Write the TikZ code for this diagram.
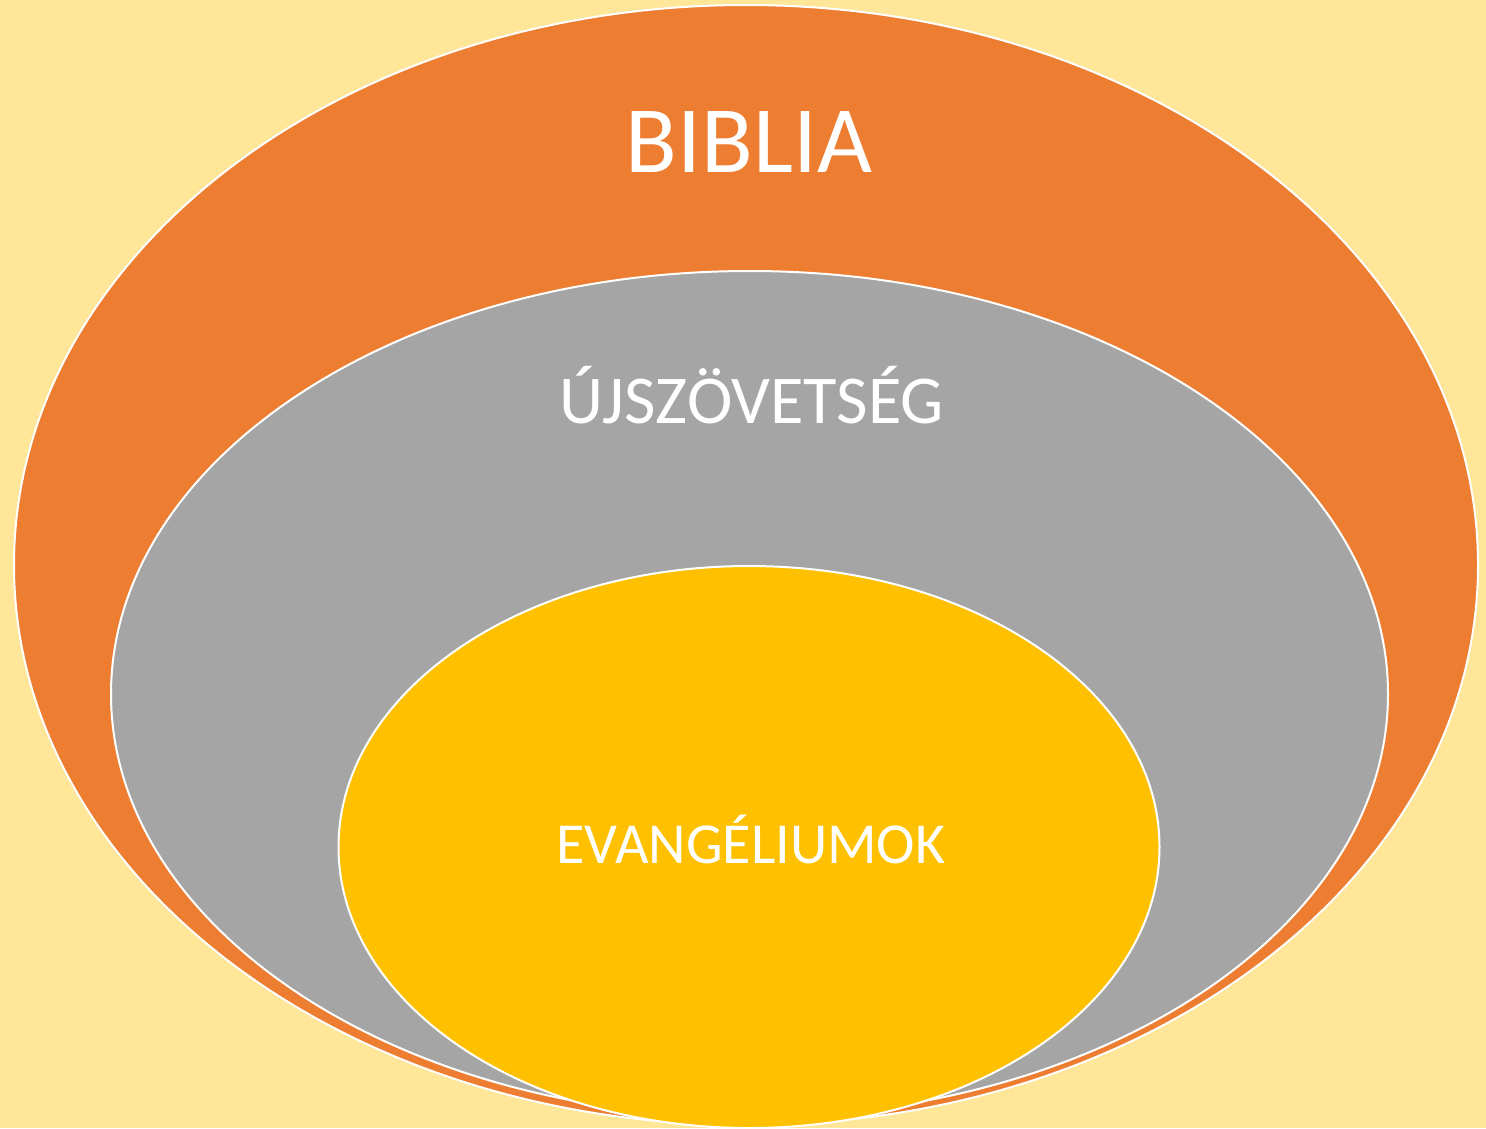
\documentclass[tikz,border=0pt]{standalone}
\usepackage{fontspec}
\setmainfont{Carlito}
\usepackage{tikz}
\usetikzlibrary{backgrounds}

\definecolor{paper}{HTML}{FFE699}
\definecolor{bibleorange}{HTML}{ED7D31}
\definecolor{ntgray}{HTML}{A5A5A5}
\definecolor{gospelgold}{HTML}{FFC000}

\begin{document}
\begin{tikzpicture}[x=1pt,y=-1pt]

\tikzstyle{ring}=[draw=white, line width=2pt]
\tikzstyle{bible}=[ring, fill=bibleorange]
\tikzstyle{newtest}=[ring, fill=ntgray]
\tikzstyle{gospels}=[ring, fill=gospelgold]
\tikzstyle{word}=[text=white, anchor=base, inner sep=0pt]

	% page
	\fill[paper] (0,0) rectangle (1486,1128);
	\useasboundingbox (0,0) rectangle (1486,1128);

	% nested ellipses
	\filldraw[bible]   (746,565)   ellipse [x radius=732pt,   y radius=560pt];
	\filldraw[newtest] (749.5,694) ellipse [x radius=638.5pt, y radius=423pt];
	\filldraw[gospels] (749,847)   ellipse [x radius=410.5pt, y radius=281pt];

	% labels
	\node[word, font=\fontsize{95}{100}\selectfont] (biblia) at (749,172) {BIBLIA};
	\node[word, font=\fontsize{68.5}{72}\selectfont] (ujszov) at (752,423) {ÚJSZÖVETSÉG};
	\node[word, font=\fontsize{58}{62}\selectfont] (evang) at (751,863) {EVANGÉLIUMOK};

\end{tikzpicture}
\end{document}
